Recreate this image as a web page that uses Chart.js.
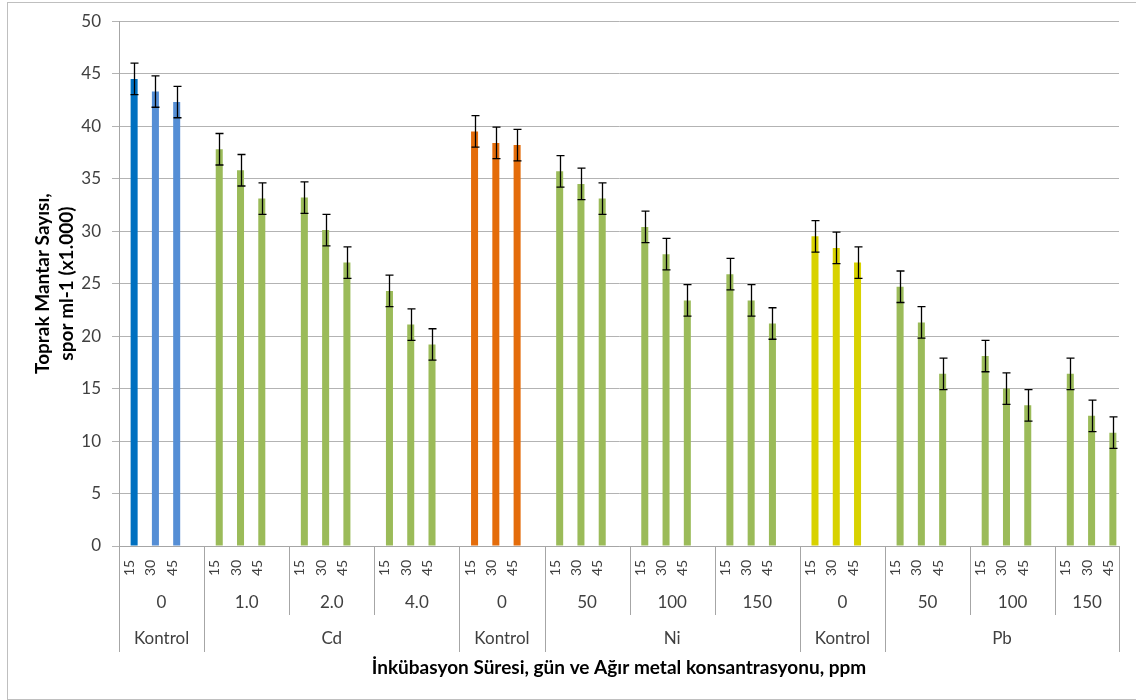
<!DOCTYPE html>
<html>
<head>
<meta charset="utf-8">
<script src="https://cdn.jsdelivr.net/npm/chart.js@4.4.0/dist/chart.umd.min.js"></script>
<style>
body{margin:0;background:#fff;overflow:hidden}
#wrap{position:relative;width:1136px;height:700px}
#frame{position:absolute;left:7px;top:2px;width:1140px;height:696px;border:1px solid #BFBFBF;pointer-events:none}
</style>
</head>
<body>
<div id="wrap"><canvas id="chart" width="1136" height="700"></canvas><div id="frame"></div></div>
<script>
var days=['15','30','45'];
var doses=['0','1.0','2.0','4.0','0','50','100','150','0','50','100','150'];
var metals=['Kontrol','Cd','Kontrol','Ni','Kontrol','Pb'];
var metalGroups=[1,3,1,3,1,3]; // how many dose groups each metal label covers
var counts=[
  [44.5,43.3,42.3],
  [37.8,35.8,33.1],
  [33.2,30.1,27.0],
  [24.3,21.1,19.2],
  [39.5,38.4,38.2],
  [35.7,34.5,33.1],
  [30.4,27.8,23.4],
  [25.9,23.4,21.2],
  [29.5,28.4,27.0],
  [24.7,21.3,16.4],
  [18.1,15.0,13.4],
  [16.4,12.4,10.8]
];
var errs=[
  [1.5,1.5,1.5],[1.5,1.5,1.5],[1.5,1.5,1.5],[1.5,1.5,1.5],
  [1.5,1.5,1.5],[1.5,1.5,1.5],[1.5,1.5,1.5],[1.5,1.5,1.5],
  [1.5,1.5,1.5],[1.5,1.5,1.5],[1.5,1.5,1.5],[1.5,1.5,1.5]
];

function barColor(g,d){
  if(g==0) return d==0?'#0070C0':'#558ED5';
  if(g==4) return '#E46C0A';
  if(g==8) return '#D8D200';
  return '#9BBB59';
}

// flatten: 3 bars per dose group, one empty slot between groups
var labels=[],values=[],errors=[],colors=[];
doses.forEach(function(dose,g){
  if(g>0){labels.push('');values.push(null);errors.push(null);colors.push('rgba(0,0,0,0)');}
  days.forEach(function(day,d){
    labels.push(day);
    values.push(counts[g][d]);
    errors.push(errs[g][d]);
    colors.push(barColor(g,d));
  });
});

var txt='#404040', axisCol='#A6A6A6';

var multiAxis={
  id:'multiAxis',
  afterDatasetsDraw:function(chart){
    var meta=chart.getDatasetMeta(1),y=chart.scales.y,ctx=chart.ctx;
    ctx.save();
    ctx.strokeStyle='#000';ctx.lineWidth=1.3;
    meta.data.forEach(function(bar,i){
      if(values[i]==null) return;
      var top=y.getPixelForValue(values[i]+errors[i]),bot=y.getPixelForValue(values[i]-errors[i]);
      var x=Math.round(bar.x)+0.5;
      ctx.beginPath();
      ctx.moveTo(x,top);ctx.lineTo(x,bot);
      ctx.moveTo(x-4,top);ctx.lineTo(x+4,top);
      ctx.moveTo(x-4,bot);ctx.lineTo(x+4,bot);
      ctx.stroke();
    });
    ctx.restore();
  },
  afterDraw:function(chart){
    var xs=chart.scales.x,area=chart.chartArea,ctx=chart.ctx;
    function edge(v){return Math.min(Math.max(xs.getPixelForValue(v),area.left),area.right);}
    ctx.save();
    ctx.fillStyle=txt;
    ctx.textAlign='center';ctx.textBaseline='middle';
    ctx.font='14px Lato';
    labels.forEach(function(l,i){
      if(!l) return;
      ctx.save();
      ctx.translate(xs.getPixelForValue(i),area.bottom+22);
      ctx.rotate(-Math.PI/2);
      ctx.fillText(l,0,0);
      ctx.restore();
    });
    ctx.font='17px Lato';
    doses.forEach(function(dose,g){
      var cx=(edge(4*g-0.5)+edge(4*g+3.5))/2;
      ctx.fillText(dose,cx,area.bottom+57);
    });
    // separators
    ctx.strokeStyle=axisCol;ctx.lineWidth=1;
    var metalEdges={},s=0;
    metalEdges[0]=true;
    metals.forEach(function(m,k){
      var a=edge(4*s-0.5),b=edge(4*(s+metalGroups[k])-0.5);
      ctx.fillText(m,(a+b)/2,area.bottom+93);
      s+=metalGroups[k];
      metalEdges[s]=true;
    });
    for(var g=0;g<=doses.length;g++){
      var px=Math.round(edge(4*g-0.5))+0.5;
      ctx.beginPath();
      ctx.moveTo(px,area.bottom);
      ctx.lineTo(px,area.bottom+(metalEdges[g]?106:69));
      ctx.stroke();
    }
    ctx.restore();
  }
};

new Chart(document.getElementById('chart'),{
  type:'bar',
  data:{
    labels:labels,
    datasets:[
      {label:'',data:labels.map(function(){return null;})}, // empty series, shifts bars right in their slot
      {label:'Toprak Mantar Sayısı',data:values,backgroundColor:colors}
    ]
  },
  options:{
    responsive:false,
    animation:false,
    devicePixelRatio:1,
    categoryPercentage:0.846,
    barPercentage:0.78,
    layout:{padding:{left:0,right:17,top:20,bottom:0}},
    plugins:{legend:{display:false},tooltip:{enabled:false}},
    scales:{
      x:{
        ticks:{display:false},
        grid:{display:false},
        border:{color:axisCol},
        title:{display:true,text:'İnkübasyon Süresi, gün ve Ağır metal konsantrasyonu, ppm',
          color:'#000',font:{family:'Lato',size:19,weight:'bold',lineHeight:1.2},padding:{top:0,bottom:21}},
        afterFit:function(s){s.height=154;}
      },
      y:{
        min:0,max:50,
        ticks:{stepSize:5,color:txt,font:{family:'Lato',size:17},padding:11},
        grid:{color:'#B3B3B3',tickLength:7},
        border:{color:axisCol},
        title:{display:true,text:['Toprak Mantar Sayısı,','spor ml-1 (x1.000)'],
          color:'#000',font:{family:'Lato',size:19,weight:'bold',lineHeight:1.25},padding:{top:31,bottom:0}},
        afterFit:function(s){s.width=119;}
      }
    }
  },
  plugins:[multiAxis]
});
</script>
</body>
</html>
